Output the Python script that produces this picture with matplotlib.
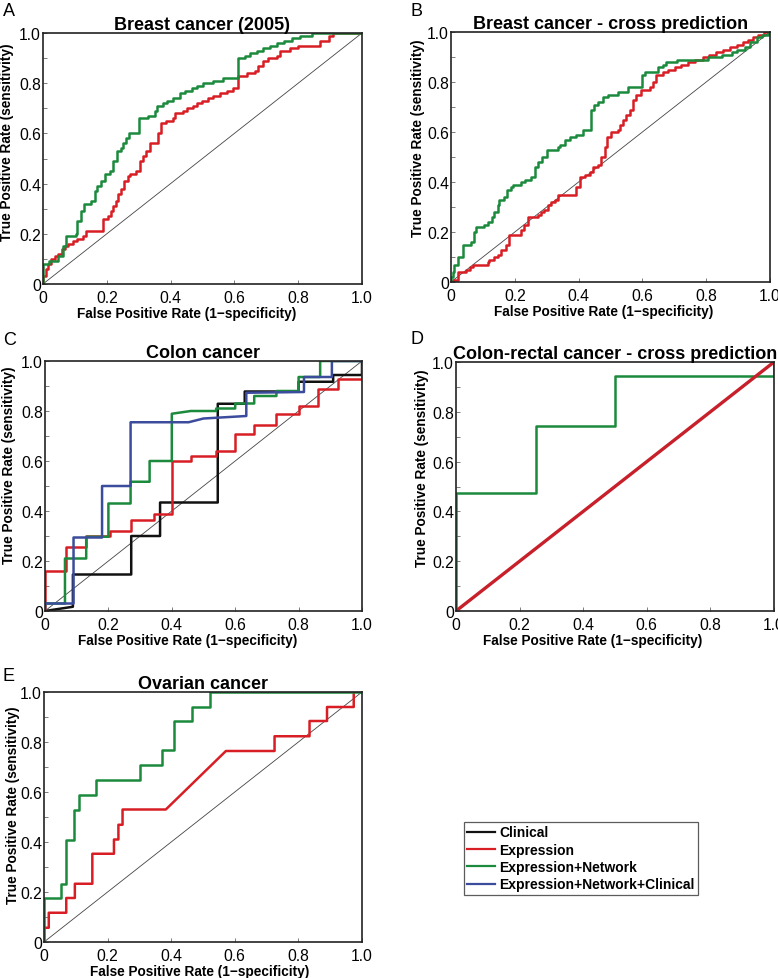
import matplotlib

matplotlib.use("Agg")
import matplotlib.pyplot as plt  # noqa: E402
from matplotlib.lines import Line2D  # noqa: E402
from matplotlib.ticker import MultipleLocator  # noqa: E402

plt.rcParams["font.family"] = ["Liberation Sans", "DejaVu Sans"]

BLACK = "#111111"
RED = "#d81e24"
GREEN = "#1b8a3c"
BLUE = "#3c4c9c"

# --- A: Breast cancer (2005), step points (fpr, tpr)
a_green_fpr = [0, 0, 0.02, 0.047, 0.063, 0.073, 0.073, 0.096, 0.103, 0.107, 0.12, 0.12,
               0.13, 0.152, 0.162, 0.168, 0.183, 0.194, 0.21, 0.22, 0.232, 0.246, 0.251,
               0.259, 0.27, 0.295, 0.3, 0.33, 0.35, 0.358, 0.377, 0.388, 0.408, 0.43,
               0.445, 0.466, 0.484, 0.5, 0.534, 0.565, 0.61, 0.61, 0.633, 0.65, 0.67,
               0.69, 0.712, 0.733, 0.754, 0.78, 0.806, 0.843, 1.0]
a_green_tpr = [0, 0.08, 0.09, 0.11, 0.15, 0.17, 0.19, 0.19, 0.2, 0.25, 0.25, 0.29,
               0.32, 0.33, 0.37, 0.39, 0.41, 0.44, 0.45, 0.49, 0.53, 0.54, 0.56,
               0.58, 0.6, 0.6, 0.66, 0.67, 0.69, 0.71, 0.72, 0.73, 0.74, 0.76,
               0.77, 0.78, 0.79, 0.8, 0.81, 0.82, 0.83, 0.9, 0.91, 0.92, 0.93,
               0.94, 0.95, 0.96, 0.97, 0.98, 0.99, 1.0, 1.0]
a_red_fpr = [0, 0, 0.01, 0.016, 0.026, 0.037, 0.047, 0.058, 0.068, 0.079, 0.094, 0.107,
             0.126, 0.136, 0.188, 0.204, 0.213, 0.22, 0.228, 0.236, 0.243, 0.253, 0.267,
             0.272, 0.293, 0.304, 0.312, 0.322, 0.335, 0.361, 0.369, 0.387, 0.406,
             0.414, 0.438, 0.45, 0.47, 0.482, 0.497, 0.518, 0.534, 0.555, 0.576,
             0.597, 0.61, 0.612, 0.64, 0.665, 0.675, 0.69, 0.706, 0.733, 0.743,
             0.775, 0.8, 0.864, 0.869, 0.895, 0.91, 1.0]
a_red_tpr = [0, 0.03, 0.06, 0.08, 0.1, 0.11, 0.12, 0.14, 0.15, 0.16, 0.17, 0.18,
             0.19, 0.21, 0.26, 0.27, 0.29, 0.31, 0.33, 0.36, 0.38, 0.41, 0.43,
             0.44, 0.45, 0.49, 0.51, 0.53, 0.56, 0.6, 0.64, 0.65, 0.66,
             0.68, 0.69, 0.7, 0.71, 0.72, 0.73, 0.74, 0.75, 0.76, 0.77,
             0.78, 0.8, 0.83, 0.84, 0.85, 0.87, 0.89, 0.9, 0.91, 0.93,
             0.94, 0.95, 0.95, 0.97, 0.99, 1.0, 1.0]

# --- B: Breast cancer - cross prediction, step points
b_green_fpr = [0, 0, 0.005, 0.01, 0.023, 0.037, 0.063, 0.071, 0.078, 0.105, 0.115, 0.129,
               0.136, 0.147, 0.152, 0.165, 0.176, 0.188, 0.194, 0.22, 0.231, 0.25, 0.262,
               0.272, 0.285, 0.302, 0.335, 0.343, 0.356, 0.372, 0.393, 0.414, 0.438,
               0.448, 0.46, 0.476, 0.492, 0.524, 0.555, 0.599, 0.607, 0.65, 0.665,
               0.675, 0.707, 0.785, 0.806, 0.848, 0.88, 0.895, 0.921, 0.937, 0.958,
               0.974, 0.995, 1.0]
b_green_tpr = [0, 0.02, 0.04, 0.07, 0.1, 0.15, 0.16, 0.2, 0.22, 0.23, 0.24, 0.26,
               0.28, 0.31, 0.33, 0.34, 0.37, 0.38, 0.39, 0.4, 0.41, 0.42, 0.46,
               0.48, 0.5, 0.53, 0.54, 0.55, 0.57, 0.58, 0.59, 0.61, 0.69,
               0.71, 0.72, 0.74, 0.75, 0.76, 0.78, 0.83, 0.84, 0.86, 0.87,
               0.88, 0.89, 0.89, 0.9, 0.91, 0.92, 0.93, 0.94, 0.96, 0.98,
               0.99, 1.0, 1.0]
b_red_fpr = [0, 0.005, 0.021, 0.047, 0.058, 0.068, 0.115, 0.12, 0.136, 0.147, 0.157,
             0.173, 0.183, 0.22, 0.228, 0.24, 0.272, 0.283, 0.293, 0.304, 0.314, 0.325,
             0.335, 0.393, 0.403, 0.419, 0.435, 0.445, 0.461, 0.471, 0.482, 0.49,
             0.503, 0.524, 0.529, 0.539, 0.55, 0.56, 0.57, 0.581, 0.597, 0.623,
             0.634, 0.644, 0.665, 0.68, 0.702, 0.722, 0.743, 0.764, 0.79, 0.81,
             0.832, 0.853, 0.874, 0.895, 0.916, 0.932, 0.948, 0.963, 0.98, 1.0]
b_red_tpr = [0, 0.01, 0.04, 0.05, 0.06, 0.07, 0.08, 0.09, 0.1, 0.11, 0.13,
             0.15, 0.19, 0.21, 0.23, 0.26, 0.27, 0.28, 0.29, 0.31, 0.32, 0.33,
             0.35, 0.38, 0.42, 0.43, 0.44, 0.46, 0.47, 0.5, 0.54, 0.58,
             0.6, 0.61, 0.63, 0.65, 0.67, 0.69, 0.73, 0.75, 0.77, 0.78,
             0.8, 0.83, 0.84, 0.85, 0.86, 0.87, 0.88, 0.89, 0.9, 0.91,
             0.92, 0.93, 0.94, 0.95, 0.96, 0.97, 0.98, 0.99, 1.0, 1.0]

# --- C: Colon cancer, curve vertices
c_clin_fpr = [0, 0.088, 0.088, 0.272, 0.272, 0.363, 0.363, 0.545, 0.545, 0.63, 0.63,
              0.8, 0.8, 0.909, 0.909, 1.0, 1.0]
c_clin_tpr = [0, 0.017, 0.146, 0.146, 0.30, 0.30, 0.434, 0.434, 0.829, 0.829, 0.878,
              0.878, 0.917, 0.917, 0.944, 0.944, 1.0]
c_expr_fpr = [0, 0, 0.065, 0.065, 0.13, 0.13, 0.205, 0.205, 0.27, 0.27, 0.345, 0.345,
              0.4, 0.4, 0.46, 0.46, 0.54, 0.54, 0.6, 0.6, 0.66, 0.66, 0.73, 0.73,
              0.8, 0.8, 0.86, 0.86, 0.925, 0.925, 1.0, 1.0]
c_expr_tpr = [0, 0.16, 0.16, 0.255, 0.255, 0.30, 0.30, 0.32, 0.32, 0.365, 0.365, 0.388,
              0.388, 0.60, 0.60, 0.62, 0.62, 0.64, 0.64, 0.708, 0.708, 0.745, 0.745, 0.79,
              0.79, 0.82, 0.82, 0.89, 0.89, 0.93, 0.93, 0.98]
c_net_fpr = [0, 0, 0.063, 0.063, 0.13, 0.13, 0.2, 0.2, 0.27, 0.27, 0.33, 0.33, 0.4, 0.4,
             0.46, 0.54, 0.54, 0.6, 0.6, 0.66, 0.66, 0.73, 0.73, 0.8, 0.8, 0.868, 0.868,
             1.0]
c_net_tpr = [0, 0.03, 0.03, 0.21, 0.21, 0.297, 0.297, 0.43, 0.43, 0.517, 0.517, 0.60,
             0.60, 0.789, 0.80, 0.80, 0.81, 0.81, 0.83, 0.83, 0.86, 0.86, 0.88, 0.88,
             0.936, 0.936, 1.0, 1.0]
c_all_fpr = [0, 0, 0.09, 0.09, 0.18, 0.18, 0.27, 0.27, 0.453, 0.5, 0.635, 0.635,
             0.817, 0.817, 0.905, 0.905, 1.0]
c_all_tpr = [0, 0.03, 0.03, 0.294, 0.294, 0.50, 0.50, 0.755, 0.755, 0.77, 0.78, 0.873,
             0.876, 0.936, 0.936, 1.0, 1.0]

# --- D: Colon-rectal cancer - cross prediction
d_expr_fpr = [0, 1.0]
d_expr_tpr = [0, 1.0]
d_net_fpr = [0, 0, 0.25, 0.25, 0.5, 0.5, 1.0, 1.0]
d_net_tpr = [0, 0.475, 0.475, 0.742, 0.742, 0.942, 0.942, 1.0]

# --- E: Ovarian cancer
e_expr_fpr = [0, 0, 0.015, 0.015, 0.07, 0.07, 0.097, 0.097, 0.152, 0.152, 0.22, 0.22,
              0.234, 0.234, 0.247, 0.247, 0.383, 0.572, 0.725, 0.725, 0.835, 0.835,
              0.89, 0.89, 0.974, 0.974]
e_expr_tpr = [0, 0.057, 0.057, 0.117, 0.117, 0.176, 0.176, 0.233, 0.233, 0.353, 0.353,
              0.41, 0.41, 0.469, 0.469, 0.53, 0.53, 0.764, 0.764, 0.823, 0.823, 0.884,
              0.884, 0.94, 0.94, 0.995]
e_net_fpr = [0, 0, 0.055, 0.055, 0.07, 0.07, 0.095, 0.095, 0.11, 0.11, 0.165, 0.165,
             0.302, 0.302, 0.37, 0.37, 0.41, 0.41, 0.466, 0.466, 0.523, 0.523, 1.0]
e_net_tpr = [0, 0.176, 0.176, 0.233, 0.233, 0.41, 0.41, 0.53, 0.53, 0.589, 0.589, 0.647,
             0.647, 0.707, 0.707, 0.767, 0.767, 0.883, 0.883, 0.94, 0.94, 1.0, 1.0]

tick_vals = [0, 0.2, 0.4, 0.6, 0.8, 1.0]
tick_labels = ["0", "0.2", "0.4", "0.6", "0.8", "1.0"]
legend_labels = ["Clinical", "Expression", "Expression+Network",
                 "Expression+Network+Clinical"]

W, H = 778, 979


def _axes(fig, box):
    x0, y0, x1, y1 = box
    return fig.add_axes([x0 / W, 1 - y1 / H, (x1 - x0) / W, (y1 - y0) / H])


def _style(ax, title, letter, fig, letter_xy, xlab_x, ylab_x, ylab_y):
    ax.plot([0, 1], [0, 1], color="#444444", lw=0.6, zorder=1)
    ax.set_xlim(0, 1)
    ax.set_ylim(0, 1)
    ax.set_xticks(tick_vals, tick_labels, fontsize=11.3)
    ax.set_yticks(tick_vals, tick_labels, fontsize=11.3)
    ax.yaxis.set_minor_locator(MultipleLocator(0.1))
    ax.tick_params(direction="in", length=3, width=0.6, color="#666666")
    ax.tick_params(axis="x", pad=4.5)
    ax.tick_params(axis="y", pad=1.5)
    ax.tick_params(which="minor", direction="in", length=3, width=0.6, color="#666666")
    for sp in ax.spines.values():
        sp.set_color("#222222")
        sp.set_linewidth(1.2)
    ax.set_title(title, fontsize=13, fontweight="bold", pad=2)
    ax.set_xlabel("False Positive Rate (1\u2212specificity)", fontsize=9.8,
                  fontweight="bold")
    ax.set_ylabel("True Positive Rate (sensitivity)", fontsize=9.8,
                  fontweight="bold")
    ax.xaxis.set_label_coords(xlab_x, -0.088)
    ax.yaxis.set_label_coords(ylab_x, ylab_y)
    fig.text(letter_xy[0] / W, 1 - letter_xy[1] / H, letter, fontsize=13,
             ha="left", va="top")


fig = plt.figure(figsize=(W / 100, H / 100), dpi=100)
lw = 1.8

ax = _axes(fig, (43, 34, 362, 285))
ax.plot(a_red_fpr, a_red_tpr, color=RED, lw=lw, drawstyle="steps-post")
ax.plot(a_green_fpr, a_green_tpr, color=GREEN, lw=lw, drawstyle="steps-post")
_style(ax, "Breast cancer (2005)", "A", fig, (3, 3), 0.45, -0.09, 0.57)

ax = _axes(fig, (451, 33, 770, 283))
ax.plot(b_red_fpr, b_red_tpr, color=RED, lw=lw, drawstyle="steps-post")
ax.plot(b_green_fpr, b_green_tpr, color=GREEN, lw=lw, drawstyle="steps-post")
_style(ax, "Breast cancer - cross prediction", "B", fig, (411, 3), 0.48, -0.082, 0.58)

ax = _axes(fig, (45, 362, 362, 612))
ax.plot(c_clin_fpr, c_clin_tpr, color=BLACK, lw=lw)
ax.plot(c_expr_fpr, c_expr_tpr, color=RED, lw=lw)
ax.plot(c_net_fpr, c_net_tpr, color=GREEN, lw=lw)
ax.plot(c_all_fpr, c_all_tpr, color=BLUE, lw=lw)
_style(ax, "Colon cancer", "C", fig, (3, 332), 0.45, -0.09, 0.585)

ax = _axes(fig, (456, 363, 774, 612))
ax.plot(d_net_fpr, d_net_tpr, color=GREEN, lw=lw)
ax.plot(d_expr_fpr, d_expr_tpr, color="#c8202a", lw=2.4)
_style(ax, "Colon-rectal cancer - cross prediction", "D", fig, (410, 331),
       0.43, -0.086, 0.578)

ax = _axes(fig, (44, 693, 362, 943))
ax.plot(e_expr_fpr, e_expr_tpr, color=RED, lw=lw)
ax.plot(e_net_fpr, e_net_tpr, color=GREEN, lw=lw)
_style(ax, "Ovarian cancer", "E", fig, (3, 668), 0.49, -0.075, 0.553)

handles = [Line2D([], [], color=c, lw=1.6) for c in (BLACK, RED, GREEN, BLUE)]
leg = fig.legend(handles, legend_labels, loc="upper left",
                 bbox_to_anchor=(464 / W, 1 - 823 / H), borderaxespad=0,
                 prop={"weight": "bold", "size": 10}, fancybox=False,
                 borderpad=0.25, labelspacing=0.24, handlelength=2.0,
                 handletextpad=0.3)
leg.get_frame().set_edgecolor("#333333")
leg.get_frame().set_linewidth(0.9)

fig.savefig("out.png", dpi=100)
